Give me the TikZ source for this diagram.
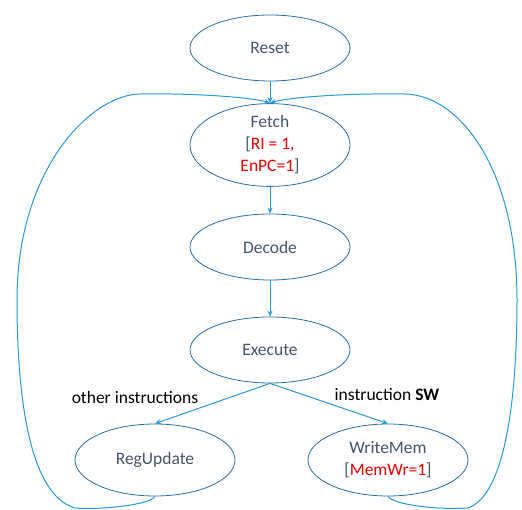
\documentclass[tikz,border=0pt]{standalone}
\usepackage{fontspec}
\setmainfont{Carlito}
\usetikzlibrary{shapes.geometric,arrows.meta}
\definecolor{edgeblue}{RGB}{40,152,214}
\definecolor{nodeblue}{RGB}{38,112,168}
\definecolor{txtgray}{RGB}{68,84,106}
\definecolor{redtxt}{RGB}{230,0,0}
\tikzset{
  state/.style={ellipse, draw=nodeblue, line width=0.8pt, minimum width=160pt, minimum height=66pt, inner sep=0pt, align=center, text=txtgray, font=\fontsize{17.5}{22}\selectfont},
  conn/.style={draw=edgeblue, line width=1pt, -{Stealth[length=6pt,width=5pt]}},
  lbl/.style={font=\fontsize{17.5}{21}\selectfont, text=black}
}
\begin{document}
\begin{tikzpicture}[x=1pt,y=-1pt]
\useasboundingbox (0,0) rectangle (522,510);
\node[state] (reset) at (270,48) {Reset};
\node[state, minimum height=70pt] (fetch) at (270,145) {Fetch\\{[}\textcolor{redtxt}{RI = 1,}\\\textcolor{redtxt}{EnPC=1}{]}};
\node[state] (decode) at (270,247) {Decode};
\node[state] (execute) at (270,350) {Execute};
\node[state, minimum height=72pt] (regupdate) at (155,460) {RegUpdate};
\node[state, minimum height=72pt] (writemem) at (388,460) {WriteMem\\{[}\textcolor{redtxt}{MemWr=1}{]}};
\node[lbl] (lother) at (135,397) {other instructions};
\node[lbl] (lsw) at (387,395) {instruction \textbf{SW}};
\coordinate (lb) at (75,508);
\coordinate (lm) at (17,300);
\coordinate (lt) at (140,94);
\coordinate (rb) at (468,508);
\coordinate (rm) at (517,300);
\coordinate (rt) at (405,94);
\draw[conn] (reset.south) -- (fetch.north);
\draw[conn] (fetch.south) -- (decode.north);
\draw[conn] (decode.south) -- (execute.north);
\draw[conn] (execute.south) -- (regupdate.north);
\draw[conn] (execute.south) -- (writemem.north);
\draw[conn] (regupdate.south) .. controls (150,505) and (100,510) .. (lb)
  .. controls (30,495) and (17,400) .. (lm)
  .. controls (17,170) and (90,95) .. (lt)
  .. controls (200,93) and (255,98) .. (fetch.north);
\draw[conn] (writemem.south) .. controls (393,505) and (440,510) .. (rb)
  .. controls (505,495) and (517,400) .. (rm)
  .. controls (517,170) and (460,95) .. (rt)
  .. controls (340,93) and (285,98) .. (fetch.north);
\end{tikzpicture}
\end{document}
